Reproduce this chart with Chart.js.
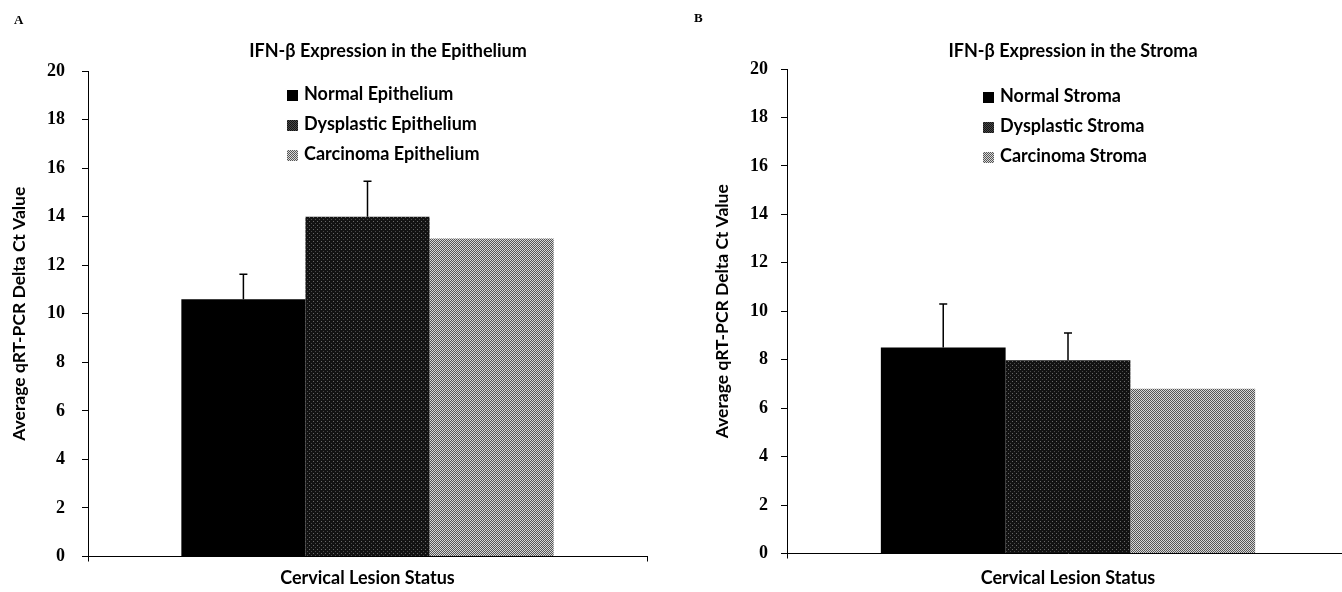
<!DOCTYPE html>
<html>
<head>
<meta charset="utf-8">
<script src="https://cdn.jsdelivr.net/npm/chart.js@4.4.0/dist/chart.umd.min.js"></script>
<style>
  html, body { margin: 0; background: #fff; overflow: hidden; }
  body { position: relative; width: 1342px; height: 592px; font-family: Lato, sans-serif; color: #000; }
  .panel { position: absolute; top: 0; height: 592px; }
  #pa { left: 0; width: 671px; }
  #pb { left: 671px; width: 678px; }
  .tag { position: absolute; font: bold 13px "Liberation Serif", serif; }
  .ttl { position: absolute; font: bold 18px Lato, sans-serif; white-space: nowrap; transform: translate(-50%, -50%); }
  .leg { position: absolute; font: bold 18px Lato, sans-serif; }
  .leg div { height: 30px; line-height: 30px; white-space: nowrap; }
  .sw { display: inline-block; width: 11px; height: 11px; margin-right: 6px; vertical-align: -1px; }
  .s0 { background: #000; }
  .s1 { background: repeating-conic-gradient(#121212 0 25%, #4a4a4a 0 50%) 0 0 / 2px 2px; }
  .s2 { background: repeating-conic-gradient(#555 0 25%, #d8d8d8 0 50%) 0 0 / 2px 2px; }
</style>
</head>
<body>
<div class="panel" id="pa"><canvas id="chartA" width="671" height="592"></canvas></div>
<div class="panel" id="pb"><canvas id="chartB" width="678" height="592"></canvas></div>

<div class="tag" style="left:14px; top:12px;">A</div>
<div class="tag" style="left:694px; top:10px;">B</div>

<div class="ttl" id="titleA" style="left:388px; top:50px;"></div>
<div class="ttl" id="titleB" style="left:1073px; top:50px;"></div>
<div class="leg" id="legA" style="left:287px; top:78px;"></div>
<div class="leg" id="legB" style="left:983px; top:80px;"></div>

<script>
const categories = ['Cervical Lesion Status'];
const yTicks = [0, 2, 4, 6, 8, 10, 12, 14, 16, 18, 20];

const epiTitle = 'IFN-\u03b2 Expression in the Epithelium';
const epiLabels = ['Normal Epithelium', 'Dysplastic Epithelium', 'Carcinoma Epithelium'];
const epiMeans = [10.6, 14.0, 13.1];
const epiErrors = [1.03, 1.46, 0];

const strTitle = 'IFN-\u03b2 Expression in the Stroma';
const strLabels = ['Normal Stroma', 'Dysplastic Stroma', 'Carcinoma Stroma'];
const strMeans = [8.5, 7.98, 6.8];
const strErrors = [1.8, 1.12, 0];

const yTitle = 'Average qRT-PCR Delta Ct Value';

// dithered fills like the printed figure
function makePattern(size, base, dots) {
  const c = document.createElement('canvas');
  c.width = c.height = size;
  const x = c.getContext('2d');
  x.fillStyle = base;
  x.fillRect(0, 0, size, size);
  dots.forEach(d => { x.fillStyle = d[2]; x.fillRect(d[0], d[1], 1, 1); });
  return x.createPattern(c, 'repeat');
}
const fills = [
  '#000000',
  makePattern(4, '#131313', [[1, 1, '#6a6a6a'], [3, 3, '#4a4a4a']]),
  makePattern(2, '#555555', [[0, 0, '#d8d8d8'], [1, 1, '#d4d4d4']])
];

const errorBars = {
  id: 'errorBars',
  afterDatasetsDraw(chart, args, opts) {
    const ctx = chart.ctx;
    const y = chart.scales.y;
    ctx.save();
    ctx.strokeStyle = '#000';
    ctx.lineWidth = 1.5;
    chart.data.datasets.forEach((ds, i) => {
      const err = opts.errors[i];
      if (!err) return;
      const bar = chart.getDatasetMeta(i).data[0];
      const top = y.getPixelForValue(ds.data[0] + err);
      ctx.beginPath();
      ctx.moveTo(bar.x, bar.y);
      ctx.lineTo(bar.x, top);
      ctx.moveTo(bar.x - 4, top);
      ctx.lineTo(bar.x + 4, top);
      ctx.stroke();
    });
    ctx.restore();
  }
};

function buildLegend(el, labels) {
  labels.forEach((l, i) => {
    const row = document.createElement('div');
    const sw = document.createElement('span');
    sw.className = 'sw s' + i;
    row.appendChild(sw);
    row.appendChild(document.createTextNode(l));
    el.appendChild(row);
  });
}

function makeChart(id, labels, means, errors, p) {
  const ctx = document.getElementById(id).getContext('2d');
  return new Chart(ctx, {
    type: 'bar',
    data: {
      labels: categories,
      datasets: labels.map((l, i) => ({
        label: l,
        data: [means[i]],
        backgroundColor: fills[i],
        borderWidth: 0,
        categoryPercentage: 0.666,
        barPercentage: 1
      }))
    },
    options: {
      responsive: false,
      animation: false,
      layout: { padding: { top: p.top, right: p.right, bottom: 0, left: 0 } },
      plugins: {
        legend: { display: false },
        tooltip: { enabled: false },
        errorBars: { errors: errors }
      },
      scales: {
        x: {
          ticks: { display: false },
          grid: { drawOnChartArea: false, color: '#000', tickLength: 5, offset: true },
          border: { color: '#000', width: 1 },
          title: {
            display: true, text: 'Cervical Lesion Status', color: '#000',
            font: { family: 'Lato', weight: 'bold', size: 18, lineHeight: 1 },
            padding: { top: p.xPad, bottom: 5 }
          }
        },
        y: {
          min: 0,
          max: 20,
          afterBuildTicks: s => { s.ticks = yTicks.map(v => ({ value: v })); },
          afterFit: s => { s.width = p.yWidth; },
          ticks: {
            color: '#000', padding: p.tickPad,
            font: { family: 'Liberation Serif', weight: 'bold', size: 18 }
          },
          grid: { drawOnChartArea: false, color: '#000', tickLength: 6 },
          border: { color: '#000', width: 1 },
          title: {
            display: true, text: yTitle, color: '#000',
            font: { family: 'Lato', weight: 'bold', size: 17.5, lineHeight: 1 },
            padding: { top: p.yTitlePad, bottom: 0 }
          }
        }
      }
    },
    plugins: [errorBars]
  });
}

document.getElementById('titleA').textContent = epiTitle;
document.getElementById('titleB').textContent = strTitle;
buildLegend(document.getElementById('legA'), epiLabels);
buildLegend(document.getElementById('legB'), strLabels);

makeChart('chartA', epiLabels, epiMeans, epiErrors,
  { top: 71, right: 24, xPad: 7.5, yWidth: 88, tickPad: 17, yTitlePad: 11 });
makeChart('chartB', strLabels, strMeans, strErrors,
  { top: 69, right: 0, xPad: 10.5, yWidth: 116, tickPad: 13, yTitlePad: 43 });
</script>
</body>
</html>
